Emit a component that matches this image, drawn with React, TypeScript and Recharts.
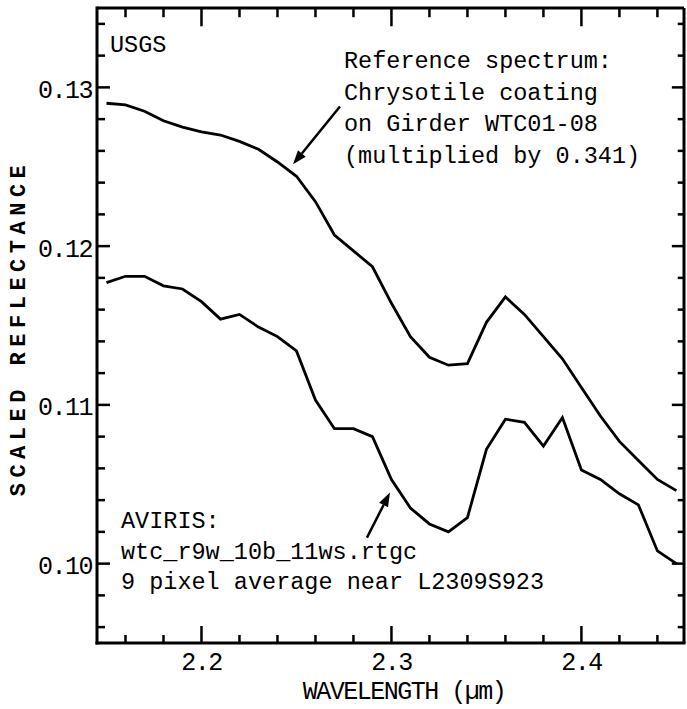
import {
  LineChart,
  Line,
  XAxis,
  YAxis,
  ReferenceLine,
  Customized,
} from "recharts"

const wavelength = [
  2.15, 2.16, 2.17, 2.18, 2.19, 2.2, 2.21, 2.22, 2.23, 2.24, 2.25, 2.26, 2.27,
  2.28, 2.29, 2.3, 2.31, 2.32, 2.33, 2.34, 2.35, 2.36, 2.37, 2.38, 2.39, 2.4,
  2.41, 2.42, 2.43, 2.44, 2.45,
]

// chrysotile reference spectrum, already multiplied by 0.341
const referenceSpectrum = [
  0.129, 0.1289, 0.1285, 0.1279, 0.1275, 0.1272, 0.127, 0.1266, 0.1261, 0.1253,
  0.1244, 0.1228, 0.1207, 0.1197, 0.1187, 0.1164, 0.1143, 0.113, 0.1125, 0.1126,
  0.1152, 0.1168, 0.1157, 0.1143, 0.1129, 0.1111, 0.1093, 0.1077, 0.1065,
  0.1053, 0.1046,
]

// AVIRIS 9 pixel average
const avirisSpectrum = [
  0.1177, 0.1181, 0.1181, 0.1175, 0.1173, 0.1165, 0.1154, 0.1157, 0.1149,
  0.1143, 0.1134, 0.1103, 0.1085, 0.1085, 0.108, 0.1053, 0.1035, 0.1025, 0.102,
  0.1029, 0.1072, 0.1091, 0.1089, 0.1074, 0.1092, 0.1059, 0.1053, 0.1044,
  0.1037, 0.1008, 0.1,
]

const xTicks = [
  2.16, 2.18, 2.2, 2.22, 2.24, 2.26, 2.28, 2.3, 2.32, 2.34, 2.36, 2.38, 2.4,
  2.42, 2.44,
]
const yTicks = [
  0.096, 0.098, 0.1, 0.102, 0.104, 0.106, 0.108, 0.11, 0.112, 0.114, 0.116,
  0.118, 0.12, 0.122, 0.124, 0.126, 0.128, 0.13, 0.132, 0.134,
]

const upperNote = [
  "Reference spectrum:",
  "Chrysotile coating",
  "on Girder WTC01-08",
  "(multiplied by 0.341)",
]
const lowerNote = [
  "AVIRIS:",
  "wtc_r9w_10b_11ws.rtgc",
  "9 pixel average near L2309S923",
]

const data = wavelength.map((w, i) => ({
  w,
  ref: referenceSpectrum[i],
  aviris: avirisSpectrum[i],
}))

const FONT = "'Liberation Mono', 'DejaVu Sans Mono', monospace"
const X_MIN = 2.145
const X_MAX = 2.454
const Y_MIN = 0.095
const Y_MAX = 0.135
const AXIS_LINE = { stroke: "#000", strokeWidth: 3, strokeLinecap: "square" }

const isMajorX = (v: number) => Math.abs(v * 10 - Math.round(v * 10)) < 1e-6
const isMajorY = (v: number) => Math.abs(v * 100 - Math.round(v * 100)) < 1e-6

function BottomTick({ x, y, payload }: any) {
  const major = isMajorX(payload.value)
  return (
    <g>
      <line x1={x} x2={x} y1={y} y2={y - (major ? 17 : 8)} stroke="#000" strokeWidth={2.5} />
      {major && (
        <text
          x={x}
          y={y + 20}
          textAnchor="middle"
          dominantBaseline="central"
          fontFamily={FONT}
          fontSize={25}
          letterSpacing={-1.5}
          fill="#000"
        >
          {payload.value.toFixed(1)}
        </text>
      )}
    </g>
  )
}

function LeftTick({ x, y, payload }: any) {
  const major = isMajorY(payload.value)
  return (
    <g>
      <line x1={x} x2={x + (major ? 13 : 8)} y1={y} y2={y} stroke="#000" strokeWidth={2.5} />
      {major && (
        <text
          x={x - 5}
          y={y + 4}
          textAnchor="end"
          dominantBaseline="central"
          fontFamily={FONT}
          fontSize={25}
          letterSpacing={-1.5}
          fill="#000"
        >
          {payload.value.toFixed(2)}
        </text>
      )}
    </g>
  )
}

function Arrow({ x1, y1, x2, y2 }: any) {
  const ang = Math.atan2(y2 - y1, x2 - x1)
  const len = 14
  const half = 5
  const bx = x2 - len * Math.cos(ang)
  const by = y2 - len * Math.sin(ang)
  const px = half * Math.sin(ang)
  const py = half * Math.cos(ang)
  return (
    <g>
      <line x1={x1} y1={y1} x2={bx} y2={by} stroke="#000" strokeWidth={2.5} />
      <polygon
        points={`${x2},${y2} ${bx + px},${by - py} ${bx - px},${by + py}`}
        fill="#000"
      />
    </g>
  )
}

function Notes() {
  const textProps = { fontFamily: FONT, fontSize: 23.5, fill: "#000" }
  return (
    <g>
      <text x={110} y={52} {...textProps}>
        USGS
      </text>
      {upperNote.map((t, i) => (
        <text key={t} x={344} y={68 + i * 31.7} {...textProps} xmlSpace="preserve">
          {t}
        </text>
      ))}
      {lowerNote.map((t, i) => (
        <text key={t} x={121} y={528 + i * 30.5} {...textProps}>
          {t}
        </text>
      ))}
      <text
        x={19}
        y={328}
        transform="rotate(-90 19 328)"
        textAnchor="middle"
        dominantBaseline="central"
        fontFamily={FONT}
        fontSize={22}
        fontWeight="bold"
        letterSpacing={5.5}
        fill="#000"
      >
        SCALED REFLECTANCE
      </text>
      <text
        x={404}
        y={692}
        textAnchor="middle"
        dominantBaseline="central"
        fontFamily={FONT}
        fontSize={25}
        letterSpacing={-1.5}
        fill="#000"
        xmlSpace="preserve"
      >
        WAVELENGTH (µm)
      </text>
    </g>
  )
}

export default function App() {
  return (
    <div style={{ position: "absolute", left: 0, top: 0, background: "#fff" }}>
      <LineChart
        width={687}
        height={709}
        data={data}
        margin={{ top: 8, right: 3, left: 0, bottom: 0 }}
      >
        <XAxis
          dataKey="w"
          type="number"
          domain={[X_MIN, X_MAX]}
          allowDataOverflow
          ticks={xTicks}
          interval={0}
          height={66}
          tickSize={0}
          tickMargin={0}
          tickLine={false}
          axisLine={AXIS_LINE}
          tick={<BottomTick />}
        />
        <YAxis
          type="number"
          domain={[Y_MIN, Y_MAX]}
          allowDataOverflow
          ticks={yTicks}
          interval={0}
          width={97}
          tickSize={0}
          tickMargin={0}
          tickLine={false}
          axisLine={AXIS_LINE}
          tick={<LeftTick />}
        />

        {/* top and right frame with inward ticks */}
        <ReferenceLine y={Y_MAX} stroke="#000" strokeWidth={3} ifOverflow="visible" />
        <ReferenceLine x={X_MAX} stroke="#000" strokeWidth={3} ifOverflow="visible" />
        {xTicks.map((t) => (
          <ReferenceLine
            key={`top-${t}`}
            segment={[
              { x: t, y: Y_MAX },
              { x: t, y: Y_MAX - (isMajorX(t) ? 0.00115 : 0.00058) },
            ]}
            stroke="#000"
            strokeWidth={2.5}
            ifOverflow="visible"
          />
        ))}
        {yTicks.map((t) => (
          <ReferenceLine
            key={`right-${t}`}
            segment={[
              { x: X_MAX, y: t },
              { x: X_MAX - (isMajorY(t) ? 0.0064 : 0.0033), y: t },
            ]}
            stroke="#000"
            strokeWidth={2.5}
            ifOverflow="visible"
          />
        ))}

        <Line
          type="linear"
          dataKey="ref"
          stroke="#000"
          strokeWidth={2.8}
          dot={false}
          isAnimationActive={false}
        />
        <Line
          type="linear"
          dataKey="aviris"
          stroke="#000"
          strokeWidth={2.8}
          dot={false}
          isAnimationActive={false}
        />
        <ReferenceLine
          segment={[
            { x: 2.2729, y: 0.1288 },
            { x: 2.2482, y: 0.12515 },
          ]}
          ifOverflow="visible"
          shape={<Arrow />}
        />
        <ReferenceLine
          segment={[
            { x: 2.2871, y: 0.10164 },
            { x: 2.2992, y: 0.10448 },
          ]}
          ifOverflow="visible"
          shape={<Arrow />}
        />
        <Customized component={<Notes />} />
      </LineChart>
    </div>
  )
}
